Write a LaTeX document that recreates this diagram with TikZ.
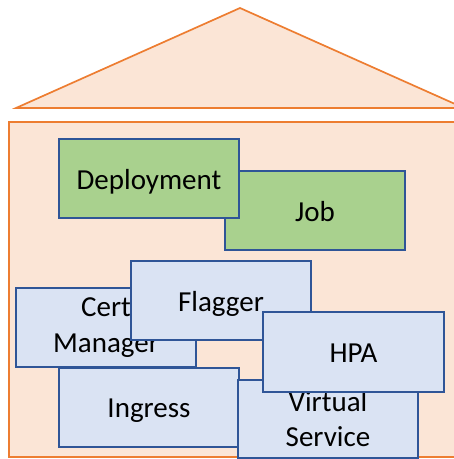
\documentclass[tikz,border=0pt]{standalone}
\usepackage{fontspec}
\setmainfont{Carlito}
\definecolor{orng}{HTML}{ED7D31}
\definecolor{peach}{HTML}{FBE5D6}
\definecolor{grn}{HTML}{A9D18E}
\definecolor{lblue}{HTML}{DAE3F3}
\definecolor{dblue}{HTML}{2F5597}
\begin{document}
\begin{tikzpicture}[x=1pt,y=-1pt,
  house/.style={draw=orng,fill=peach,line width=1.7pt,line join=miter},
  kbox/.style={draw=dblue,line width=2pt,rectangle,minimum width=180pt,minimum height=79pt,inner sep=0pt,align=center,font=\fontsize{29}{35.5}\selectfont},
  oneline/.style={text height=21pt,text depth=0pt},
  greenbox/.style={kbox,fill=grn},
  bluebox/.style={kbox,fill=lblue}]
\clip (0,0) rectangle (454,459);
\draw[house] (16,108) -- (240,8) -- (464,108) -- cycle;
\draw[house] (9,122) rectangle (480,457);
\node[greenbox,oneline] (job) at (315,210.5) {Job};
\node[greenbox,oneline] (dep) at (149,178.5) {Deployment};
\node[bluebox] (cert) at (106,327.5) {Cert\\Manager};
\node[bluebox,oneline] (flag) at (221,300.5) {Flagger};
\node[bluebox,oneline] (ingr) at (149,407) {Ingress};
\node[bluebox,minimum height=78pt] (vs) at (328,419) {Virtual\\Service};
\node[bluebox,oneline,minimum width=181pt,minimum height=80pt] (hpa) at (353.5,352) {HPA};
\end{tikzpicture}
\end{document}
